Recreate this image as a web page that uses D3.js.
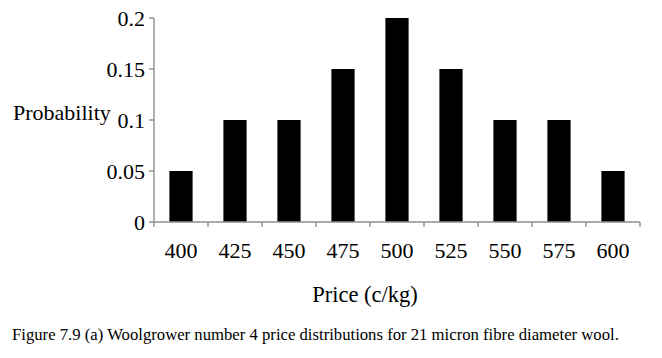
<!DOCTYPE html>
<html><head><meta charset="utf-8">
<script src="https://cdn.jsdelivr.net/npm/d3@7"></script>
<style>body{margin:0;background:#fff}svg{display:block}</style>
</head><body>
<svg id="c" width="662" height="358"></svg>
<script>
const categories = ["400","425","450","475","500","525","550","575","600"];
const probabilities = [0.05,0.1,0.1,0.15,0.2,0.15,0.1,0.1,0.05];
const yTicks = [0,0.05,0.1,0.15,0.2];
const yTickLabels = ["0","0.05","0.1","0.15","0.2"];

const FONT = '"Liberation Serif", "Times New Roman", serif';
const svg = d3.select("#c");
const pLeft = 154, pRight = 640, pTop = 18, pBottom = 222;
const x = d3.scaleBand().domain(categories).range([pLeft,pRight]).paddingInner(0.57).paddingOuter(0.285);
const xb = d3.scaleBand().domain(categories).range([pLeft,pRight]);
const y = d3.scaleLinear().domain([0,0.2]).range([pBottom,pTop]);

svg.selectAll("rect.bar").data(probabilities).join("rect")
  .attr("x",(d,i)=>x(categories[i])).attr("width",x.bandwidth())
  .attr("y",d=>y(d)).attr("height",d=>y(0)-y(d)).attr("fill","#000");

const axisColor="#8f8f8f";
svg.append("line").attr("x1",pLeft).attr("x2",pRight).attr("y1",pBottom).attr("y2",pBottom).attr("stroke",axisColor).attr("stroke-width",1.4);
const bounds = categories.map(c=>xb(c)).concat([pRight]);
svg.selectAll("line.xt").data(bounds).join("line")
  .attr("x1",d=>d).attr("x2",d=>d).attr("y1",pBottom).attr("y2",pBottom+5).attr("stroke",axisColor).attr("stroke-width",1.4);
svg.selectAll("text.xl").data(categories).join("text")
  .attr("x",d=>xb(d)+xb.bandwidth()/2).attr("y",258).attr("text-anchor","middle")
  .style("font-family",FONT).attr("font-size",22).text(d=>d);

svg.append("line").attr("x1",pLeft).attr("x2",pLeft).attr("y1",pTop).attr("y2",pBottom).attr("stroke",axisColor).attr("stroke-width",1.4);
svg.selectAll("line.yt").data(yTicks).join("line")
  .attr("x1",pLeft-5).attr("x2",pLeft).attr("y1",d=>y(d)).attr("y2",d=>y(d)).attr("stroke",axisColor).attr("stroke-width",1.4);
svg.selectAll("text.yl").data(yTicks).join("text")
  .attr("x",145).attr("y",d=>y(d)+8).attr("text-anchor","end")
  .style("font-family",FONT).attr("font-size",22).text((d,i)=>yTickLabels[i]);

svg.append("text").attr("x",13).attr("y",120).style("font-family",FONT).attr("font-size",22).text("Probability");
svg.append("text").attr("x",365).attr("y",302).attr("text-anchor","middle").style("font-family",FONT).attr("font-size",22.5).text("Price (c/kg)");
svg.append("text").attr("x",12).attr("y",340).style("font-family",FONT).attr("font-size",16.7).text("Figure 7.9 (a) Woolgrower number 4 price distributions for 21 micron fibre diameter wool.");
</script>
</body></html>
